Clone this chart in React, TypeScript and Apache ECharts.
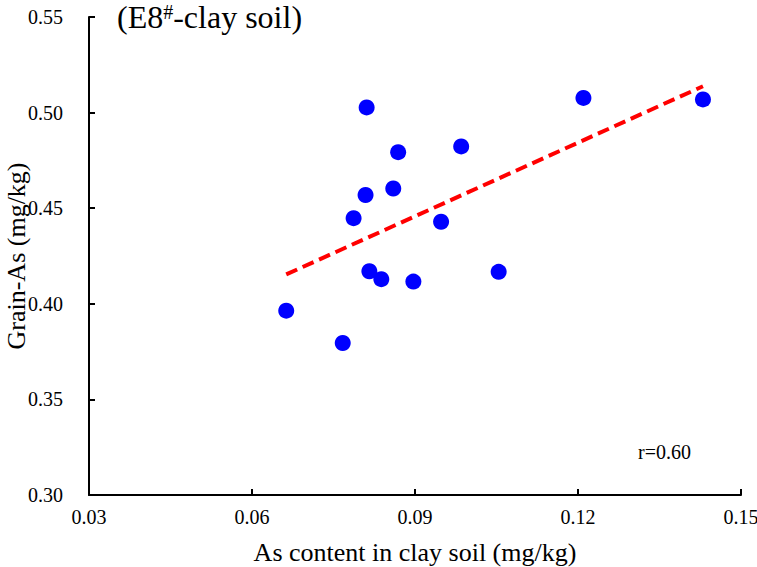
import React, { useEffect, useRef } from "react";
import * as echarts from "echarts";

const soilAs = [0.0811, 0.0869, 0.0985, 0.0860, 0.0809, 0.0787, 0.0948, 0.0816, 0.0838, 0.0897, 0.1054, 0.0663, 0.0767, 0.1210, 0.1430];
const grainAs = [0.5027, 0.4793, 0.4823, 0.4603, 0.4569, 0.4448, 0.4429, 0.4170, 0.4129, 0.4116, 0.4167, 0.3964, 0.3795, 0.5077, 0.5069];
const xTicks = { min: 0.03, max: 0.15, interval: 0.03 };
const yTicks = { min: 0.30, max: 0.55, interval: 0.05 };
const rLabel = "r=0.60";

function fitLine(xs: number[], ys: number[]) {
  const n = xs.length;
  const mx = xs.reduce((a, b) => a + b, 0) / n;
  const my = ys.reduce((a, b) => a + b, 0) / n;
  let sxy = 0, sxx = 0;
  for (let i = 0; i < n; i++) {
    sxy += (xs[i] - mx) * (ys[i] - my);
    sxx += (xs[i] - mx) ** 2;
  }
  const b = sxy / sxx;
  const a = my - b * mx;
  const x0 = Math.min(...xs), x1 = Math.max(...xs);
  return [[x0, a + b * x0], [x1, a + b * x1]];
}

export default function App() {
  const ref = useRef<HTMLDivElement>(null);
  useEffect(() => {
    if (!ref.current) return;
    const chart = echarts.init(ref.current, null, { renderer: "svg" });
    const font = "Liberation Serif";
    const axisCommon = {
      axisLine: { show: true, lineStyle: { color: "#000", width: 2 } },
      axisTick: { show: true, inside: true, length: 6, lineStyle: { color: "#000", width: 2 } },
      splitLine: { show: false },
      axisLabel: { color: "#000", fontFamily: font, fontSize: 20 },
      nameTextStyle: { color: "#000", fontFamily: font, fontSize: 26 },
      nameMoveOverlap: false,
    };
    chart.setOption({
      animation: false,
      backgroundColor: "#fff",
      title: {
        text: "{a|(E8}{b|#}{a|-clay soil)}",
        left: 117,
        top: 0,
        padding: 0,
        textStyle: {
          rich: {
            a: { fontFamily: font, fontSize: 32, fontWeight: "normal", color: "#000", lineHeight: 34 },
            b: { fontFamily: font, fontSize: 20, fontWeight: "normal", color: "#000", verticalAlign: "top", lineHeight: 20, padding: [2, 0, 0, 0] },
          },
        },
      },
      grid: { left: 89, top: 17, right: 16, bottom: 72, containLabel: false, outerBoundsMode: "none" },
      xAxis: {
        type: "value",
        ...xTicks,
        name: "As content in clay soil (mg/kg)",
        nameLocation: "middle",
        nameGap: 44,
        ...axisCommon,
        axisLabel: { ...axisCommon.axisLabel, margin: 12, formatter: (v: number) => v.toFixed(2) },
      },
      yAxis: {
        type: "value",
        ...yTicks,
        name: "Grain-As (mg/kg)",
        nameLocation: "middle",
        nameGap: 60,
        ...axisCommon,
        axisLabel: { ...axisCommon.axisLabel, margin: 26, formatter: (v: number) => v.toFixed(2) },
      },
      series: [
        {
          type: "scatter",
          data: soilAs.map((x, i) => [x, grainAs[i]]),
          symbolSize: 16,
          itemStyle: { color: "#0000ff", opacity: 1 },
          z: 3,
        },
        {
          type: "line",
          data: fitLine(soilAs, grainAs),
          showSymbol: false,
          symbol: "none",
          lineStyle: { color: "#ff0000", width: 4, type: [12, 6] },
          z: 2,
        },
      ],
      graphic: [
        {
          type: "text",
          left: 638,
          top: 442,
          style: { text: rLabel, fontFamily: font, fontSize: 20, fill: "#000" },
        },
      ],
    });
    return () => chart.dispose();
  }, []);
  return <div ref={ref} style={{ position: "absolute", left: 0, top: 0, width: 757, height: 567 }} />;
}
